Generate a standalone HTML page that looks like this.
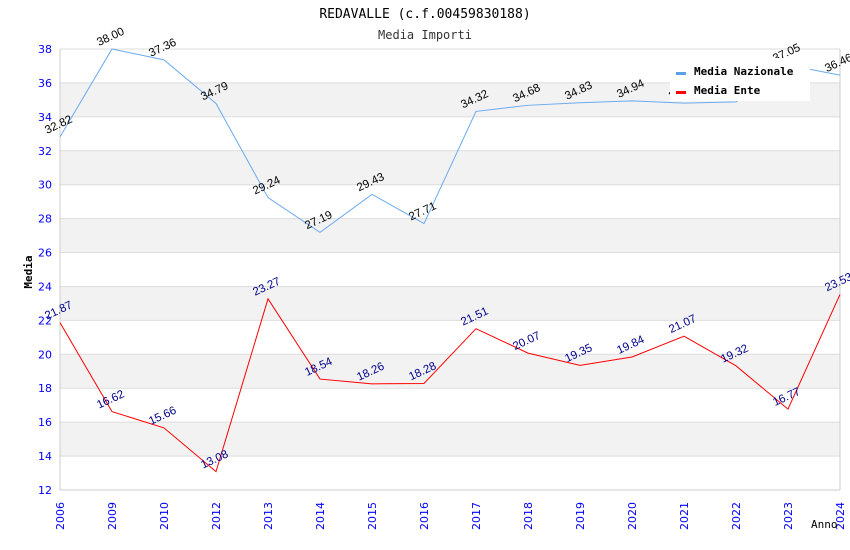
<!DOCTYPE html>
<html><head><meta charset="utf-8"><style>
body{margin:0;background:#fff;}
svg{display:block;}
</style></head><body>
<svg id="chart" width="850" height="550" xmlns="http://www.w3.org/2000/svg">
<text x="425" y="18" text-anchor="middle" font-family="DejaVu Sans Mono, monospace" font-size="13" fill="#000">REDAVALLE (c.f.00459830188)</text>
<text x="425" y="39" text-anchor="middle" font-family="DejaVu Sans Mono, monospace" font-size="12" fill="#333">Media Importi</text>
<g id="grid"></g>
<g id="axes"></g>
<g id="series"></g>
<g id="legend">
<rect x="670" y="58" width="140" height="43" fill="#fff"/>
<rect x="676" y="72" width="10" height="3" fill="#5aa0e8"/>
<text x="694" y="75" font-family="DejaVu Sans Mono, monospace" font-weight="bold" font-size="11">Media Nazionale</text>
<rect x="676" y="91" width="10" height="3" fill="#f00"/>
<text x="694" y="94" font-family="DejaVu Sans Mono, monospace" font-weight="bold" font-size="11">Media Ente</text>
</g>
<text x="32" y="272" transform="rotate(-90 32 272)" text-anchor="middle" font-family="DejaVu Sans Mono, monospace" font-weight="bold" font-size="11">Media</text>
<text x="811" y="528" font-family="DejaVu Sans Mono, monospace" font-size="11">Anno</text>
</svg>
<script>
const categories=["2006","2009","2010","2012","2013","2014","2015","2016","2017","2018","2019","2020","2021","2022","2023","2024"];
const nazionale=[32.82,38.00,37.36,34.79,29.24,27.19,29.43,27.71,34.32,34.68,34.83,34.94,34.81,34.88,37.05,36.46];
const ente=[21.87,16.62,15.66,13.08,23.27,18.54,18.26,18.28,21.51,20.07,19.35,19.84,21.07,19.32,16.77,23.53];
const yTicks=[12,14,16,18,20,22,24,26,28,30,32,34,36,38];
const NS="http://www.w3.org/2000/svg";
const L=60,R=840,T=49,B=490,ymin=12,ymax=38;
function xs(i){return L+i*(R-L)/(categories.length-1);}
function ys(v){return B-(v-ymin)/(ymax-ymin)*(B-T);}
function mk(tag,attrs,parent){const e=document.createElementNS(NS,tag);for(const k in attrs)e.setAttribute(k,attrs[k]);parent.appendChild(e);return e;}
const grid=document.getElementById('grid'),axes=document.getElementById('axes'),ser=document.getElementById('series');
for(let k=0;k<yTicks.length-1;k++){
 if(yTicks[k]%4===2){const r=mk('rect',{x:L,y:ys(yTicks[k+1]),width:R-L,height:ys(yTicks[k])-ys(yTicks[k+1]),fill:'#f2f2f2'},grid);
 
 }
}
yTicks.forEach(t=>{
 const l=mk('line',{x1:L,x2:R,y1:ys(t),y2:ys(t),stroke:'#ddd'},grid);
 
 
 const tx=mk('text',{x:L-8,y:ys(t)+4,'text-anchor':'end','font-family':'DejaVu Sans, sans-serif','font-size':'11',fill:'#00f'},axes);
 tx.textContent=t;
 
 
});
mk('line',{x1:L,x2:L,y1:T,y2:B,stroke:'#ccc'},axes);
mk('line',{x1:R,x2:R,y1:T,y2:B,stroke:'#ccc'},axes);
mk('line',{x1:L,x2:R,y1:B,y2:B,stroke:'#ccc'},axes);
categories.forEach((c,i)=>{
 const x=xs(i)+4,y=B+40;
 const tx=mk('text',{x:x,y:y,transform:`rotate(-90 ${x} ${y})`,'font-family':'DejaVu Sans, sans-serif','font-size':'11',fill:'#00f'},axes);
 tx.textContent=c;
 
 
});
function drawSeries(vals,color,lblColor,name){
 const p=mk('polyline',{points:vals.map((v,i)=>xs(i)+','+ys(v)).join(' '),fill:'none',stroke:color,'stroke-width':1},ser);
 
 
 vals.forEach((v,i)=>{
  const x=xs(i),y=ys(v)-9;
  const t=mk('text',{x:x,y:y,'text-anchor':'middle',transform:`rotate(-25 ${x} ${y})`,'font-family':'Liberation Sans, sans-serif','font-size':'11.5',fill:lblColor},ser);
  t.textContent=v.toFixed(2);
  
  
 });
}
drawSeries(nazionale,'#6aaaf0','#000','nazionale');
drawSeries(ente,'#f00','#00008b','ente');
document.getElementById('chart').appendChild(document.getElementById('legend'));
</script>
</body></html>
